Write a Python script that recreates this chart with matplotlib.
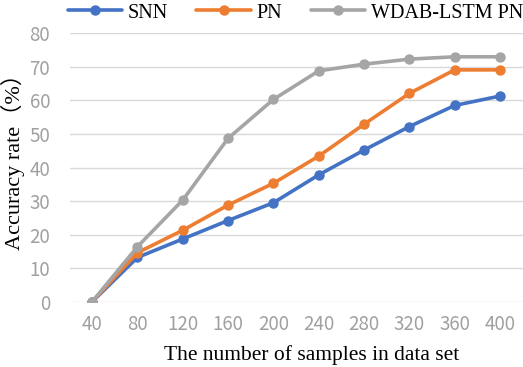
import matplotlib
matplotlib.use('Agg')
import matplotlib.pyplot as plt

# data
samples = [40, 80, 120, 160, 200, 240, 280, 320, 360, 400]
snn = [0, 13.2, 18.7, 24.2, 29.5, 37.8, 45.2, 52.2, 58.5, 61.3]
pn = [0, 14.6, 21.3, 28.8, 35.3, 43.4, 52.9, 62.1, 69.1, 69.1]
wdab_lstm_pn = [0, 16.4, 30.3, 48.7, 60.3, 68.8, 70.8, 72.3, 73.0, 73.0]
series_names = ["SNN", "PN", "WDAB-LSTM PN"]
y_ticks = [0, 10, 20, 30, 40, 50, 60, 70, 80]

colors = ["#4472C4", "#ED7D31", "#A5A5A5"]
serif = ["Liberation Serif", "Noto Sans CJK SC"]
tick_font = "Noto Sans CJK SC"

fig = plt.figure(figsize=(5.23, 3.67), dpi=100)
ax = fig.add_axes([69.5 / 523, 65.3 / 367, 453.2 / 523, 268.4 / 367])

x = list(range(len(samples)))
for vals, name, c in zip([snn, pn, wdab_lstm_pn], series_names, colors):
    ax.plot(x, vals, color=c, lw=2.6, marker="o", ms=6.5, label=name,
            solid_capstyle="round", zorder=3)

ax.set_xlim(-0.5, len(samples) - 0.5)
ax.set_ylim(0, 80)
ax.set_yticks(y_ticks)
ax.set_xticks(x)
ax.set_xticklabels([str(s) for s in samples])
for sp in ax.spines.values():
    sp.set_visible(False)
ax.grid(axis="y", color="#D9D9D9", lw=1.0, zorder=0)
ax.set_axisbelow(True)
ax.tick_params(length=0, labelsize=13.5, labelcolor="#A0A0A0")
for lab in ax.get_xticklabels() + ax.get_yticklabels():
    lab.set_fontfamily(tick_font)
ax.tick_params(axis="x", pad=9)
ax.tick_params(axis="y", pad=14)

ax.set_xlabel("The number of samples in data set", fontsize=15.5, family=serif)
ax.set_ylabel("Accuracy rate（%）", fontsize=16, family=serif)
ax.xaxis.set_label_coords(0.535, -0.16)
ax.yaxis.set_label_coords(-0.099, 0.54)

leg = fig.legend(loc="upper center", bbox_to_anchor=(0.565, 1.04), ncol=3,
                 frameon=False, prop={"family": serif, "size": 14.5},
                 handlelength=2.7, columnspacing=1.4, handletextpad=0.3)

fig.savefig("out.png", dpi=100)
